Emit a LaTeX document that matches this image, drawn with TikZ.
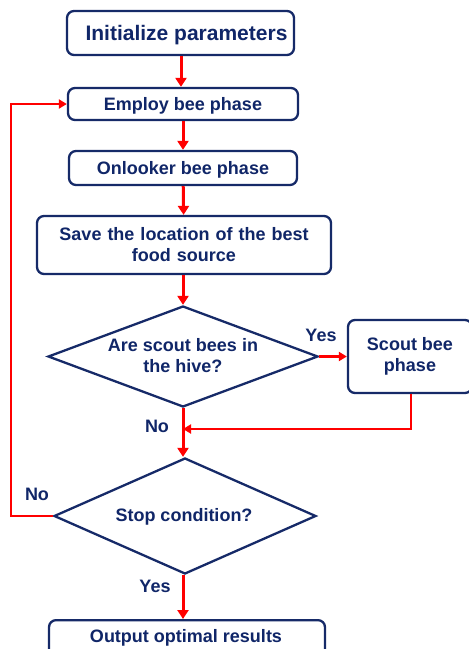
\documentclass[tikz,border=0pt]{standalone}
\usepackage{fontspec}
\setmainfont{Liberation Sans}
\usetikzlibrary{shapes.geometric,arrows.meta}
\definecolor{navy}{RGB}{22,42,104}
\definecolor{navytext}{RGB}{16,38,104}
\definecolor{ared}{RGB}{255,0,0}
\begin{document}
\begin{tikzpicture}[x=1pt,y=-1pt,
  box/.style={draw=navy,line width=2.3pt,rounded corners=7pt,fill=white,
    text=navytext,font=\bfseries\fontsize{18}{21}\selectfont,align=center,inner sep=0pt},
  oneline/.style={text depth=0pt},
  dia/.style={draw=navy,line width=2.3pt,diamond,inner sep=0pt,fill=white},
  txt/.style={text=navytext,font=\bfseries\fontsize{18}{21}\selectfont,align=center,inner sep=0pt},
  lbl/.style={text=navytext,font=\bfseries\fontsize{18}{21}\selectfont,inner sep=0pt},
  thick arrow/.style={draw=ared,line width=3pt,-{Triangle[length=9pt,width=11pt]}},
  thin arrow/.style={draw=ared,line width=2.2pt,-{Triangle[length=8pt,width=9pt]}}]
\useasboundingbox (0,0) rectangle (469,649);
\clip (0,0) rectangle (469,649);
\node[box,oneline,minimum width=227pt,minimum height=44pt,font=\bfseries\fontsize{21}{24}\selectfont] (init) at (180.5,33) {\hspace*{12pt}Initialize parameters};
\node[box,oneline,minimum width=230pt,minimum height=32pt] (employ) at (183,104) {Employ bee phase};
\node[box,oneline,minimum width=228pt,minimum height=34pt] (onlook) at (183,168) {Onlooker bee phase};
\node[box,minimum width=294pt,minimum height=58pt,text width=290pt] (save) at (184,245) {Save the location of the best\\food source};
\node[dia,minimum width=270pt,minimum height=101pt] (d1) at (183,356.5) {};
\node[txt] (d1t) at (183,356) {Are scout bees in\\the hive?};
\node[box,minimum width=124pt,minimum height=73pt] (scout) at (410,356.5) {Scout bee\\phase};
\node[dia,minimum width=262pt,minimum height=116pt] (d2) at (185,516) {};
\node[txt] (d2t) at (184,517) {Stop condition?};
\node[box,minimum width=276pt,minimum height=40pt,anchor=north] (out) at (187,619) {};
\node[txt] (outt) at (186,637.5) {Output optimal results};
\coordinate (join) at (183,429);
\draw[thick arrow] (init.south -| 181,0) -- (employ.north -| 181,0);
\draw[thick arrow] (employ) -- (onlook);
\draw[thick arrow] (onlook) -- (save);
\draw[thick arrow] (save.south -| d1.north) -- (d1.north);
\draw[thin arrow] (d1.east) -- (scout.west);
\draw[thin arrow] (scout.south -| 411,0) |- (join);
\draw[thick arrow] (d1.south) -- (d1.south |- d2.north);
\draw[thin arrow] (d2.west) -- (11,516) |- (employ.west);
\draw[thick arrow] (d2.south -| d1.south) -- (d1.south |- out.north);
\node[lbl] (y1) at (321,335) {Yes};
\node[lbl] (n1) at (157,426) {No};
\node[lbl] (n2) at (37,494) {No};
\node[lbl] (y2) at (155,586) {Yes};
\end{tikzpicture}
\end{document}
